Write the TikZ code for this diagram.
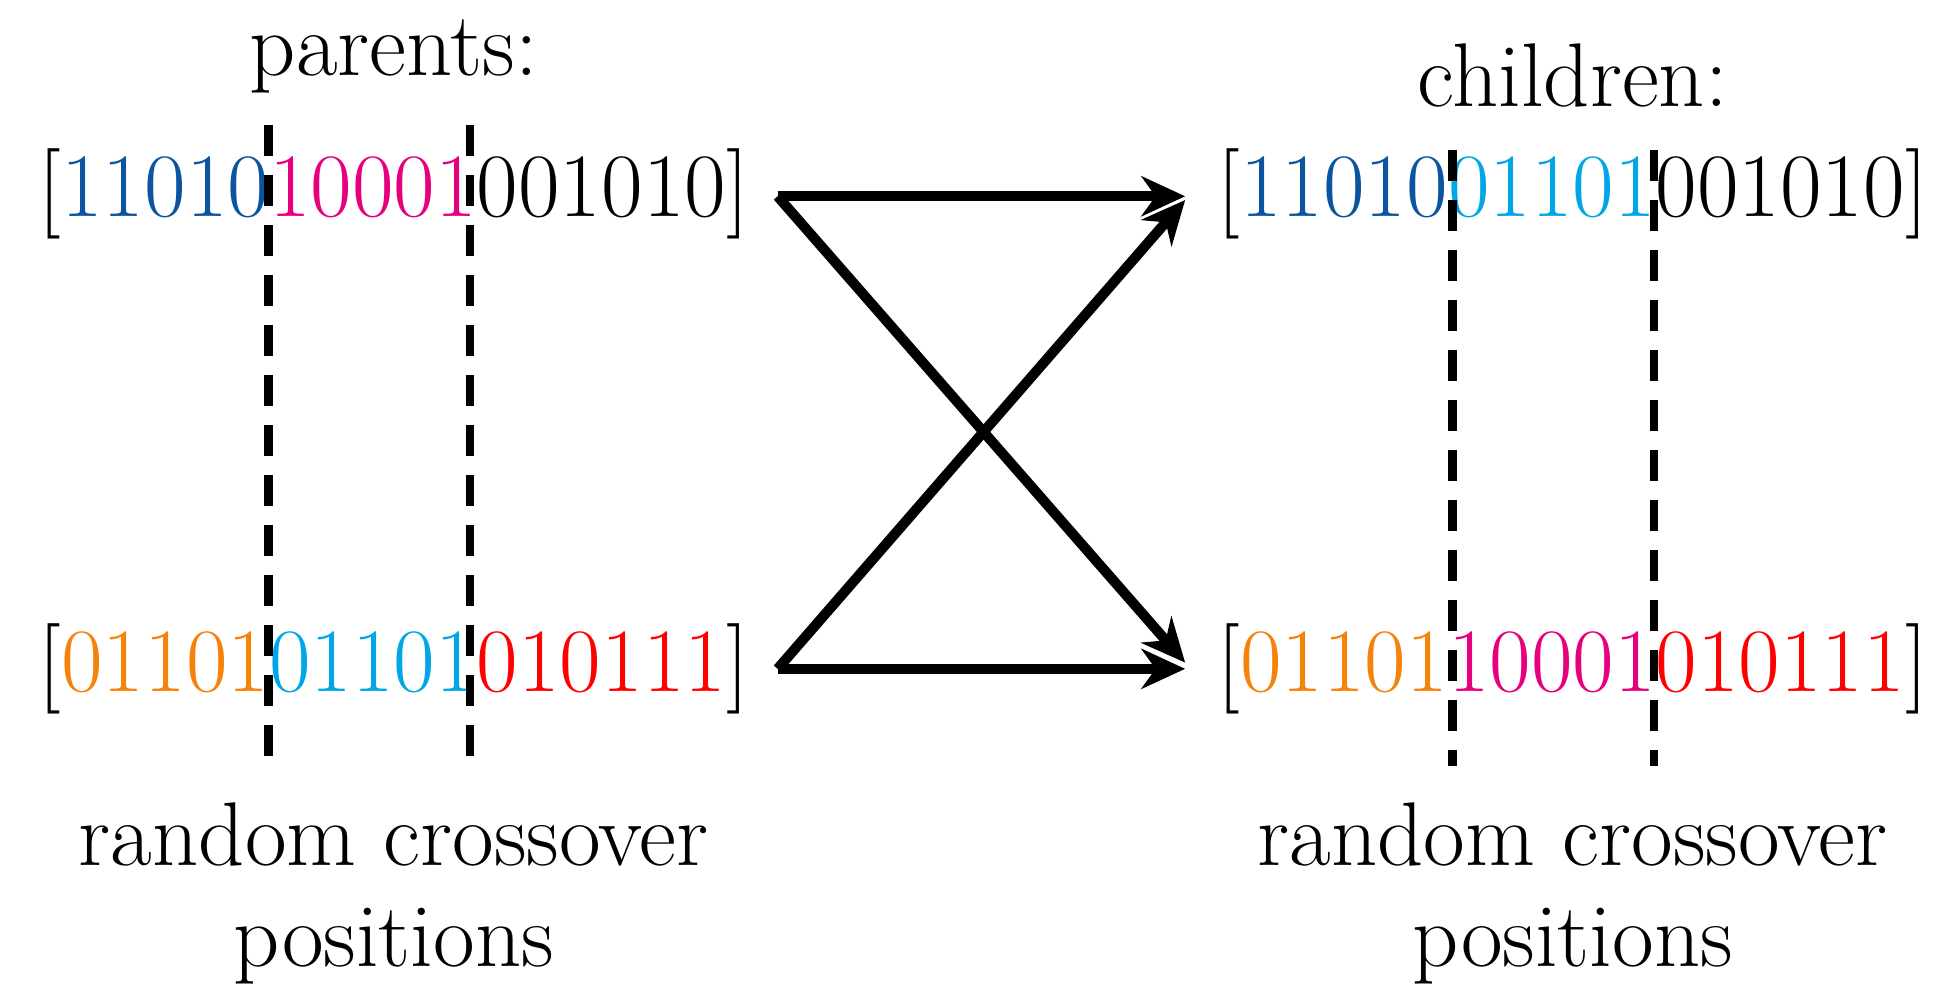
\documentclass[tikz,border=0pt]{standalone}
\usetikzlibrary{arrows.meta}
\definecolor{dblue}{RGB}{10,84,160}
\definecolor{mag}{RGB}{230,0,126}
\definecolor{orng}{RGB}{245,130,10}
\definecolor{cyn}{RGB}{0,166,230}
\definecolor{rd}{RGB}{255,0,0}
\begin{document}
\begin{tikzpicture}[x=1cm,y=1cm,
  txt/.style={inner sep=0pt,font=\fontsize{20.6}{25}\selectfont},
  cut/.style={line width=2pt,dash pattern=on 0.25cm off 0.15cm},
  arr/.style={line width=2.3pt,-{Stealth[length=0.35cm,width=0.32cm]}}]
\useasboundingbox (0,2.01) rectangle (15.67,10.03);
\node[txt] (pl) at (3.15,9.58) {parents:};
\node[txt] (cl) at (12.58,9.43) {children:};
\node[txt] (p1) at (3.15,8.48) {[\textcolor{dblue}{11010}\textcolor{mag}{10001}001010]};
\node[txt] (p2) at (3.15,4.68) {[\textcolor{orng}{01101}\textcolor{cyn}{01101}\textcolor{rd}{010111}]};
\node[txt] (c1) at (12.58,8.48) {[\textcolor{dblue}{11010}\textcolor{cyn}{01101}001010]};
\node[txt] (c2) at (12.58,4.68) {[\textcolor{orng}{01101}\textcolor{mag}{10001}\textcolor{rd}{010111}]};
\node[txt,align=center] (rl) at (3.15,2.88) {random crossover\\[-2pt]positions};
\node[txt,align=center] (rr) at (12.58,2.88) {random crossover\\[-2pt]positions};
\coordinate (a1) at (6.22,8.46);
\coordinate (a2) at (6.22,4.68);
\coordinate (b1) at (9.48,8.46);
\coordinate (b2) at (9.48,4.68);
\coordinate (b1x) at (9.48,8.43);
\coordinate (b2x) at (9.48,4.73);
\draw[cut] (2.15,9.03) -- (2.15,3.90);
\draw[cut] (3.76,9.03) -- (3.76,3.90);
\draw[cut] (11.62,8.83) -- (11.62,3.90);
\draw[cut] (13.23,8.83) -- (13.23,3.90);
\draw[arr] (a1) -- (b1);
\draw[arr] (a1) -- (b2x);
\draw[arr] (a2) -- (b2);
\draw[arr] (a2) -- (b1x);
\end{tikzpicture}
\end{document}
